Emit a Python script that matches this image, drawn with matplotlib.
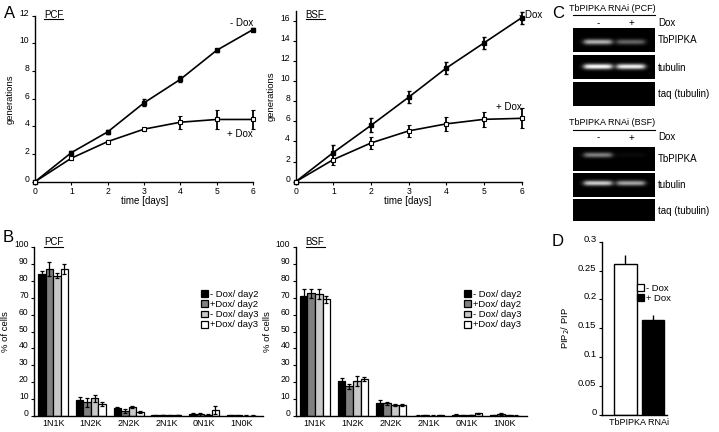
import numpy as np
import matplotlib
matplotlib.use('Agg')
import matplotlib.pyplot as plt
from matplotlib.patches import Rectangle, Patch

plt.rcParams['font.family'] = ['Liberation Sans', 'DejaVu Sans']

# ---------------- data ----------------
days = [0, 1, 2, 3, 4, 5, 6]
pcf_minus = [0, 2.1, 3.6, 5.7, 7.4, 9.5, 11.0]
pcf_minus_err = [0, 0.12, 0.12, 0.25, 0.22, 0.1, 0.1]
pcf_plus = [0, 1.7, 2.9, 3.8, 4.3, 4.5, 4.5]
pcf_plus_err = [0, 0.1, 0.1, 0.1, 0.46, 0.66, 0.72]
bsf_minus = [0, 2.9, 5.6, 8.4, 11.3, 13.8, 16.3]
bsf_minus_err = [0, 0.75, 0.7, 0.58, 0.6, 0.58, 0.6]
bsf_plus = [0, 2.2, 3.85, 5.05, 5.75, 6.2, 6.3]
bsf_plus_err = [0, 0.55, 0.58, 0.63, 0.73, 0.73, 1.0]

categories = ['1N1K', '1N2K', '2N2K', '2N1K', '0N1K', '1N0K']
series_labels = ['- Dox/ day2', '+Dox/ day2', '- Dox/ day3', '+Dox/ day3']
series_colors = ['#000000', '#808080', '#c8c8c8', '#ffffff']

pcf_dist = [
    [84, 9.5, 5.0, 0.3, 1.2, 0.3],
    [87, 8.0, 3.0, 0.5, 1.0, 0.5],
    [83, 10.5, 5.2, 0.3, 0.8, 0.2],
    [87, 7.0, 2.2, 0.5, 3.5, 0.2],
]
pcf_dist_err = [
    [2, 2, 0.5, 0.2, 0.4, 0.2],
    [4, 2.5, 1.0, 0.2, 1.0, 0.3],
    [1.5, 2, 0.5, 0.2, 0.3, 0.1],
    [3, 1, 0.5, 0.2, 2.5, 0.1],
]
bsf_dist = [
    [71, 20.5, 7.5, 0.2, 0.8, 0.5],
    [72.5, 17.5, 7.5, 0.3, 0.5, 1.0],
    [72, 20.5, 6.5, 0.2, 0.5, 0.3],
    [69, 22, 6.5, 0.3, 1.5, 0.2],
]
bsf_dist_err = [
    [4, 2, 2, 0.1, 0.3, 0.3],
    [2.5, 1.5, 1, 0.1, 0.3, 0.5],
    [3, 3, 0.5, 0.1, 0.2, 0.2],
    [2, 1, 0.5, 0.1, 0.5, 0.1],
]

pip_labels = ['- Dox', '+ Dox']
pip_values = [0.262, 0.165]
pip_err = [0.015, 0.008]
pip_colors = ['#ffffff', '#000000']
pip_yticks = [0, 0.05, 0.1, 0.15, 0.2, 0.25, 0.3]
pip_yticklabels = ['0', '0.05', '0.1', '0.15', '0.2', '0.25', '0.3']

gel_rows = ['TbPIPKA', 'tubulin', 'taq (tubulin)']
pcf_band_minus = [0.7, 1.0, 0.0]
pcf_band_plus = [0.4, 0.95, 0.0]
bsf_band_minus = [0.5, 0.8, 0.0]
bsf_band_plus = [0.04, 0.65, 0.0]

# ---------------- figure ----------------
W, H = 719, 432
fig = plt.figure(figsize=(W / 100, H / 100), dpi=100)


def ax_px(left, top, right, bottom):
    return fig.add_axes([left / W, 1 - bottom / H, (right - left) / W, (bottom - top) / H])


def style(ax, fs=6.2):
    for s in ['top', 'right']:
        ax.spines[s].set_visible(False)
    for s in ['left', 'bottom']:
        ax.spines[s].set_linewidth(1.0)
    ax.tick_params(direction='out', length=2.5, width=0.8, labelsize=fs, pad=1.5)


# ---- Panel A ----
def growth(ax, minus, minus_err, plus, plus_err, ymax, yticks):
    ax.errorbar(days, minus, yerr=minus_err, fmt='-s', color='black', mfc='black',
                mec='black', ms=3.2, lw=1.2, elinewidth=1.3, capsize=1.5,
                clip_on=False, zorder=3)
    ax.errorbar(days, plus, yerr=plus_err, fmt='-s', color='black', mfc='white',
                mec='black', ms=3.2, mew=0.8, lw=1.2, elinewidth=1.3, capsize=1.5,
                clip_on=False, zorder=3)
    ax.set_xlim(0, 6)
    ax.set_ylim(0, ymax)
    ax.set_xticks(days)
    ax.set_yticks(yticks, labels=[str(t) for t in yticks], va='baseline')
    style(ax)
    ax.set_ylabel('generations', fontsize=6.8)
    ax.set_xlabel('time [days]', fontsize=7)


axA1 = ax_px(35, 181.7 - 12 * 13.83, 253, 181.7)
growth(axA1, pcf_minus, pcf_minus_err, pcf_plus, pcf_plus_err, 12, [0, 2, 4, 6, 8, 10, 12])
axA1.yaxis.set_label_coords(-0.092, 0.5)
axA1.xaxis.set_label_coords(0.505, -0.085)

axA2 = ax_px(295.7, 181.7 - 17 * 10.06, 521.7, 181.7)
growth(axA2, bsf_minus, bsf_minus_err, bsf_plus, bsf_plus_err, 17,
       [0, 2, 4, 6, 8, 10, 12, 14, 16])
axA2.yaxis.set_label_coords(-0.087, 0.5)
axA2.xaxis.set_label_coords(0.495, -0.082)


# ---- Panel B ----
def distribution(ax, vals, errs, xlim):
    x = np.arange(len(categories))
    width = 0.2
    for i in range(4):
        ax.bar(x + (i - 1.5) * width, vals[i], width, yerr=errs[i],
               color=series_colors[i], edgecolor='black', linewidth=0.9,
               label=series_labels[i],
               error_kw=dict(elinewidth=0.9, capsize=1.3, capthick=0.9, ecolor='black'))
    ax.set_xlim(*xlim)
    ax.set_ylim(0, 100)
    yt = list(range(0, 101, 10))
    ax.set_yticks(yt, labels=[str(t) for t in yt], va='baseline')
    ax.set_xticks(x, labels=categories)
    style(ax)
    ax.tick_params(axis='x', length=0, labelsize=6.5, pad=2)
    ax.set_ylabel('% of cells', fontsize=6.8)


axB1 = ax_px(34.3, 247, 263, 416)
distribution(axB1, pcf_dist, pcf_dist_err, (-0.5, 5.56))
axB1.yaxis.set_label_coords(-0.106, 0.5)
axB1.legend(loc='upper left', bbox_to_anchor=(201 / W, 1 - 290 / H),
            bbox_transform=fig.transFigure, frameon=False, fontsize=6.8,
            handlelength=0.75, handleheight=0.75, handletextpad=0.25,
            labelspacing=0.12, borderpad=0, borderaxespad=0)

axB2 = ax_px(295.7, 247, 527, 416)
distribution(axB2, bsf_dist, bsf_dist_err, (-0.51, 5.58))
axB2.yaxis.set_label_coords(-0.102, 0.5)
axB2.legend(loc='upper left', bbox_to_anchor=(464 / W, 1 - 290 / H),
            bbox_transform=fig.transFigure, frameon=False, fontsize=6.8,
            handlelength=0.75, handleheight=0.75, handletextpad=0.25,
            labelspacing=0.12, borderpad=0, borderaxespad=0)

# ---- Panel D ----
axD = ax_px(602, 241.7, 667, 415)
xd = np.arange(len(pip_values))
barsD = axD.bar(xd, pip_values, 0.815, color=pip_colors, edgecolor='black', linewidth=1.0)
axD.errorbar(xd, pip_values, yerr=[[0, 0], pip_err], fmt='none', ecolor='black',
             elinewidth=1.0, capsize=0)
axD.set_xlim(-0.845, 1.51)
axD.set_ylim(0, 0.3)
axD.set_yticks(pip_yticks, labels=pip_yticklabels, va='baseline')
axD.set_xticks([0.5], labels=['TbPIPKA RNAi'])
style(axD, fs=6.8)
axD.tick_params(axis='x', length=0, labelsize=6.5, pad=2)
axD.set_ylabel('PIP$_2$/ PIP', fontsize=6.8)
axD.yaxis.set_label_coords(-0.46, 0.5)
axD.legend([Patch(facecolor=c, edgecolor='black', linewidth=0.9) for c in pip_colors],
           pip_labels, loc='upper left', bbox_to_anchor=(637 / W, 1 - 284 / H),
           bbox_transform=fig.transFigure, frameon=False, fontsize=6.8,
           handlelength=0.75, handleheight=0.75, handletextpad=0.25,
           labelspacing=0.12, borderpad=0, borderaxespad=0)

# ---------------- overlay (text, gels) ----------------
ov = fig.add_axes([0, 0, 1, 1])
ov.set_xlim(0, W)
ov.set_ylim(H, 0)
ov.axis('off')
ov.patch.set_alpha(0)

# panel letters
for letter, (x, y) in {'A': (9.5, 13), 'B': (8, 238), 'C': (558, 13), 'D': (558, 242)}.items():
    ov.text(x, y, letter, fontsize=12, ha='center', va='center')

# underlined panel titles
for txt, (xc, yc, x0, x1, yu) in {'PCF_A': (53.5, 14.5, 44, 63, 19.3),
                                   'BSF_A': (315, 14.5, 305.5, 324.5, 19.3),
                                   'PCF_B': (53.5, 242, 44, 63, 247),
                                   'BSF_B': (315, 242, 305.5, 324.5, 247)}.items():
    ov.text(xc, yc, txt.split('_')[0], fontsize=7, ha='center', va='center')
    ov.plot([x0, x1], [yu, yu], color='black', lw=0.8)

# growth curve annotations
ov.text(253, 23, '- Dox', fontsize=7, ha='right', va='center')
ov.text(253, 134, '+ Dox', fontsize=7, ha='right', va='center')
axA2.text(5.92, 16.6, '- Dox', fontsize=7, ha='left', va='center', zorder=1)
ov.text(522, 107, '+ Dox', fontsize=7, ha='right', va='center')


# gels
def gel(box_top, box_bot, band_frac, i_minus, i_plus):
    left, right = 573, 655
    nrow = int(round((box_bot - box_top) * 3))
    ncol = int(round((right - left) * 3))
    yy = np.linspace(box_top, box_bot, nrow)[:, None]
    xx = np.linspace(left, right, ncol)[None, :]
    img = np.zeros((nrow, ncol))
    yc = box_top + band_frac * (box_bot - box_top)
    for xc, inten in ((598, i_minus), (631, i_plus)):
        if inten <= 0:
            continue
        prof_x = 1 / (1 + np.exp((np.abs(xx - xc) - 14) / 1.6))
        prof_y = np.exp(-0.5 * ((yy - yc) / 1.9) ** 2)
        img += inten * prof_x * prof_y
    img = np.clip(img, 0, 1)
    ov.imshow(img, cmap='gray', vmin=0, vmax=1, extent=(left, right, box_bot, box_top),
              aspect='auto', interpolation='bilinear', zorder=2)


pcf_boxes = [(28.3, 51.7, 0.58), (56, 79.3, 0.48), (82.7, 106, 0.5)]
bsf_boxes = [(146.7, 170.7, 0.33), (173.3, 197.3, 0.42), (200, 221.5, 0.5)]
for (t, b, f), im_, ip_ in zip(pcf_boxes, pcf_band_minus, pcf_band_plus):
    gel(t, b, f, im_, ip_)
for (t, b, f), im_, ip_ in zip(bsf_boxes, bsf_band_minus, bsf_band_plus):
    gel(t, b, f, im_, ip_)
for boxes in (pcf_boxes, bsf_boxes):
    for (t, b, f), name in zip(boxes, gel_rows):
        ov.text(658, (t + b) / 2, name, fontsize=7, ha='left', va='center')

for title, ty, uy, ly in (('TbPIPKA RNAi (PCF)', 8.3, 15, 23.3),
                          ('TbPIPKA RNAi (BSF)', 122.7, 129.5, 137.5)):
    ov.text(612, ty, title, fontsize=6.5, ha='center', va='center')
    ov.plot([573, 655], [uy, uy], color='black', lw=0.8)
    ov.text(598, ly, '-', fontsize=7, ha='center', va='center')
    ov.text(631, ly, '+', fontsize=7, ha='center', va='center')
    ov.text(658, ly, 'Dox', fontsize=7, ha='left', va='center')

fig.savefig('out.png', dpi=100)
